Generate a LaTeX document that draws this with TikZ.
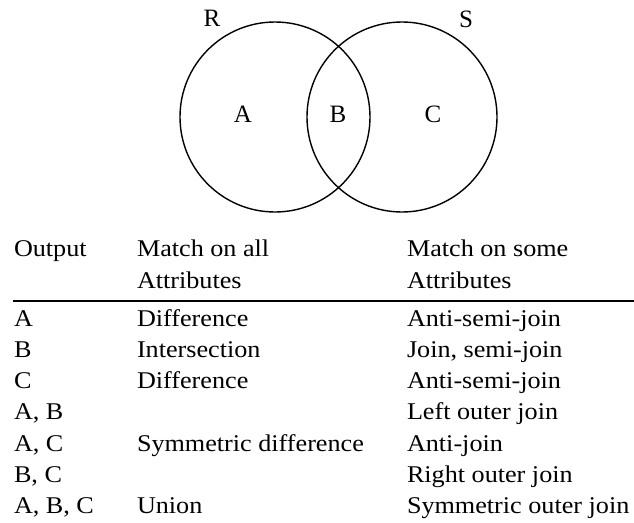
\documentclass[tikz,border=0pt]{standalone}
\usepackage{fontspec}
\setmainfont{Liberation Serif}
\newfontfamily\tabfont[FakeStretch=1.09]{Liberation Serif}
\begin{document}
\begin{tikzpicture}[x=1pt,y=-1pt,
  every node/.style={inner sep=0pt,outer sep=0pt},
  setcircle/.style={draw, line width=1.4pt, circle, minimum size=190pt},
  venn/.style={font=\fontsize{25}{30}\selectfont},
  cell/.style={anchor=base west, font=\tabfont\fontsize{24}{28}\selectfont}]
\useasboundingbox (0,0) rectangle (634,522);
% Venn diagram
\node[setcircle] (R) at (275,117) {};
\node[setcircle] (S) at (402,117) {};
\node[venn] (Rl) at (212,18) {R};
\node[venn] (Sl) at (466,19) {S};
\node[venn] (Al) at (243,114) {A};
\node[venn] (Bl) at (338,114) {B};
\node[venn] (Cl) at (433,114) {C};
% Table header
\node[cell] (h1) at (14,256) {Output};
\node[cell] (h2a) at (137,256) {Match on all};
\node[cell] (h2b) at (137,288) {Attributes};
\node[cell] (h3a) at (407,256) {Match on some};
\node[cell] (h3b) at (407,288) {Attributes};
\coordinate (rl) at (13,301);
\coordinate (rr) at (634,301);
\draw[line width=1.3pt] (rl) -- (rr);
% Rows
\node[cell] (o1) at (14,326) {A};
\node[cell] (m1) at (137,326) {Difference};
\node[cell] (s1) at (407,326) {Anti-semi-join};
\node[cell] (o2) at (14,357.3) {B};
\node[cell] (m2) at (137,357.3) {Intersection};
\node[cell] (s2) at (407,357.3) {Join, semi-join};
\node[cell] (o3) at (14,388.6) {C};
\node[cell] (m3) at (137,388.6) {Difference};
\node[cell] (s3) at (407,388.6) {Anti-semi-join};
\node[cell] (o4) at (14,419.9) {A, B};
\node[cell] (s4) at (407,419.9) {Left outer join};
\node[cell] (o5) at (14,451.2) {A, C};
\node[cell] (m5) at (137,451.2) {Symmetric difference};
\node[cell] (s5) at (407,451.2) {Anti-join};
\node[cell] (o6) at (14,482.5) {B, C};
\node[cell] (s6) at (407,482.5) {Right outer join};
\node[cell] (o7) at (14,513.8) {A, B, C};
\node[cell] (m7) at (137,513.8) {Union};
\node[cell] (s7) at (407,513.8) {Symmetric outer join};
\end{tikzpicture}
\end{document}
